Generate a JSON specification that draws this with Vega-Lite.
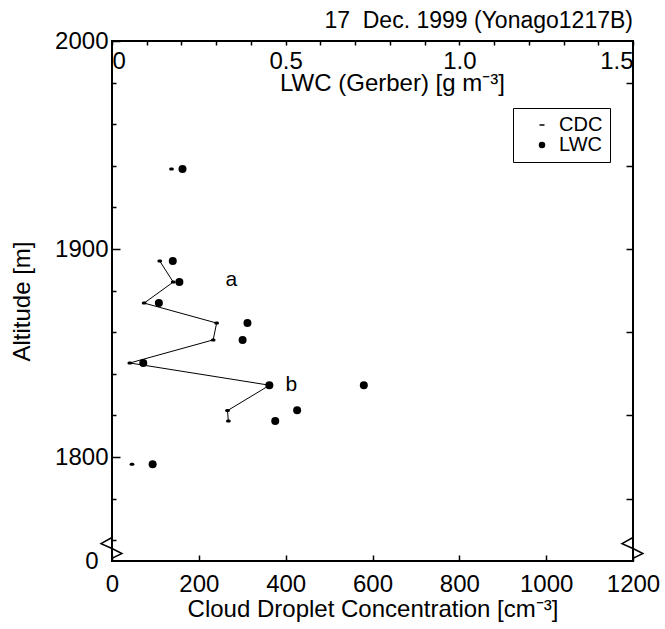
{
  "$schema": "https://vega.github.io/schema/vega-lite/v6.json",
  "autosize": "none",
  "width": 521,
  "height": 520,
  "padding": {"left": 112, "top": 41, "right": 32, "bottom": 68},
  "background": "white",
  "title": {"text": "17\u00a0 Dec. 1999 (Yonago1217B)", "anchor": "end", "frame": "group", "fontSize": 23, "fontWeight": "normal", "font": "Liberation Sans", "color": "black", "offset": -4},
  "config": {
    "view": {"stroke": "black", "strokeWidth": 2},
    "axis": {"grid": false, "domain": false, "labelFont": "Liberation Sans", "titleFont": "Liberation Sans", "labelColor": "black", "titleColor": "black", "tickColor": "black", "labelFontSize": 24, "titleFontSize": 24, "titleFontWeight": "normal", "tickWidth": 1.5, "labelOverlap": false, "format": "d"},
    "text": {"font": "Liberation Sans"}
  },
  "datasets": {
    "cdc": [
      {"alt": 1894.2, "cdc": 110, "cloud": true},
      {"alt": 1884.1, "cdc": 141, "cloud": true},
      {"alt": 1874.0, "cdc": 74, "cloud": true},
      {"alt": 1864.4, "cdc": 241, "cloud": true},
      {"alt": 1856.3, "cdc": 233, "cloud": true},
      {"alt": 1845.2, "cdc": 41, "cloud": true},
      {"alt": 1834.5, "cdc": 363, "cloud": true},
      {"alt": 1822.3, "cdc": 266, "cloud": true},
      {"alt": 1817.3, "cdc": 268, "cloud": true},
      {"alt": 1938.5, "cdc": 137, "cloud": false},
      {"alt": 1796.5, "cdc": 46, "cloud": false}
    ],
    "lwc": [
      {"alt": 1894.2, "lwc": 0.175},
      {"alt": 1884.1, "lwc": 0.194},
      {"alt": 1874.0, "lwc": 0.135},
      {"alt": 1864.4, "lwc": 0.390},
      {"alt": 1856.3, "lwc": 0.376},
      {"alt": 1845.2, "lwc": 0.090},
      {"alt": 1834.5, "lwc": 0.453},
      {"alt": 1834.5, "lwc": 0.725},
      {"alt": 1822.5, "lwc": 0.533},
      {"alt": 1817.3, "lwc": 0.470},
      {"alt": 1796.5, "lwc": 0.117},
      {"alt": 1938.5, "lwc": 0.203}
    ],
    "labels": [
      {"label": "a", "cdc": 275, "alt": 1885},
      {"label": "b", "cdc": 413, "alt": 1834.5}
    ],
    "breaks": [
      {"cdc": 0, "alt": 1756},
      {"cdc": 1200, "alt": 1756}
    ]
  },
  "layer": [
    {
      "data": {"name": "cdc"},
      "transform": [{"filter": "datum.cloud"}],
      "mark": {"type": "line", "color": "black", "strokeWidth": 1},
      "encoding": {
        "x": {"field": "cdc", "type": "quantitative", "scale": {"domain": [0, 1200], "nice": false},
          "axis": {"orient": "bottom", "values": [0, 200, 400, 600, 800, 1000, 1200], "format": "d", "tickSize": -6, "labelPadding": 17, "labelFlush": false, "labelFontSize": 24,
            "title": "Cloud Droplet Concentration [cm\u207b\u00b3]", "titleY": 48, "titleBaseline": "middle", "titleAnchor": "middle"}},
        "y": {"field": "alt", "type": "quantitative", "scale": {"domain": [1750, 2000], "nice": false, "zero": false},
          "axis": {"orient": "left", "values": [1800, 1900, 2000], "format": "d", "tickSize": -8, "labelPadding": 12, "labelFlush": false,
            "title": "Altitude [m]", "titleX": -90, "titleY": 260, "titleAngle": 270, "titleBaseline": "middle", "titleAlign": "center"}},
        "order": {"field": "alt", "sort": "descending"}
      }
    },
    {
      "data": {"name": "cdc"},
      "mark": {"type": "point", "filled": true, "color": "black", "stroke": "black", "strokeWidth": 3, "strokeCap": "round", "size": 3, "opacity": 1},
      "encoding": {
        "x": {"field": "cdc", "type": "quantitative", "scale": {"domain": [0, 1200], "nice": false}, "axis": null},
        "y": {"field": "alt", "type": "quantitative", "scale": {"domain": [1750, 2000], "nice": false, "zero": false},
          "axis": {"orient": "left", "values": [1760, 1780, 1820, 1840, 1860, 1880, 1920, 1940, 1960, 1980], "tickSize": -4, "labels": false, "title": null}},
        "shape": {"datum": "CDC", "type": "nominal", "scale": {"domain": ["CDC", "LWC"], "range": ["M-1,0L1,0", "circle"]},
          "legend": {"orient": "none", "legendX": 401, "legendY": 67, "title": null, "strokeColor": "black", "fillColor": "white", "padding": 7, "rowPadding": 0,
            "labelFontSize": 20, "labelFont": "Liberation Sans", "labelColor": "black", "symbolOffset": 12, "labelOffset": 7, "symbolSize": 25,
            "labelExpr": "datum.label + '\u00a0\u00a0'", "symbolOpacity": 1}}
      }
    },
    {
      "data": {"name": "lwc"},
      "mark": {"type": "point", "filled": true, "color": "black", "size": 64, "opacity": 1},
      "encoding": {
        "x": {"field": "lwc", "type": "quantitative", "scale": {"domain": [0, 1.5], "nice": false},
          "axis": {"orient": "top", "values": [0, 0.1, 0.2, 0.3, 0.4, 0.5, 0.6, 0.7, 0.8, 0.9, 1.0, 1.1, 1.2, 1.3, 1.4, 1.5],
            "labelExpr": "datum.value == 0 ? '0' : (abs(datum.value * 2 - round(datum.value * 2)) < 0.000001 ? format(datum.value, '.1f') : '')",
            "tickSize": -4, "labelPadding": -4, "labelBaseline": "top", "labelFlush": true, "labelFontSize": 24,
            "title": "LWC (Gerber) [g m\u207b\u00b3]", "titleX": 280, "titleY": 42, "titleBaseline": "middle", "titleAlign": "center", "titleAnchor": null}},
        "y": {"field": "alt", "type": "quantitative", "scale": {"domain": [1750, 2000], "nice": false, "zero": false},
          "axis": {"orient": "right", "values": [1780, 1820, 1860, 1900, 1940, 1980], "tickSize": -7, "labels": false, "title": null}},
        "shape": {"datum": "LWC", "type": "nominal"}
      }
    },
    {
      "data": {"name": "labels"},
      "mark": {"type": "text", "fontSize": 21, "color": "black", "align": "center", "baseline": "middle"},
      "encoding": {
        "x": {"field": "cdc", "type": "quantitative", "scale": {"domain": [0, 1200], "nice": false}, "axis": null},
        "y": {"field": "alt", "type": "quantitative", "scale": {"domain": [1750, 2000], "nice": false, "zero": false}, "axis": null},
        "text": {"field": "label"}
      }
    },
    {
      "data": {"name": "breaks"},
      "mark": {"type": "point", "shape": "M0,-1L-1,-0.45L0,0L0.9,0.45L0,0.9", "size": 484, "filled": false, "stroke": "black", "strokeWidth": 1.5, "opacity": 1},
      "encoding": {
        "x": {"field": "cdc", "type": "quantitative", "scale": {"domain": [0, 1200], "nice": false}, "axis": null},
        "y": {"field": "alt", "type": "quantitative", "scale": {"domain": [1750, 2000], "nice": false, "zero": false},
          "axis": {"orient": "left", "values": [1750], "labelExpr": "'0'", "ticks": false, "labelPadding": 14, "labelFlush": false, "title": null}}
      }
    }
  ],
  "resolve": {"scale": {"x": "independent"}, "axis": {"x": "independent", "y": "independent"}}
}
